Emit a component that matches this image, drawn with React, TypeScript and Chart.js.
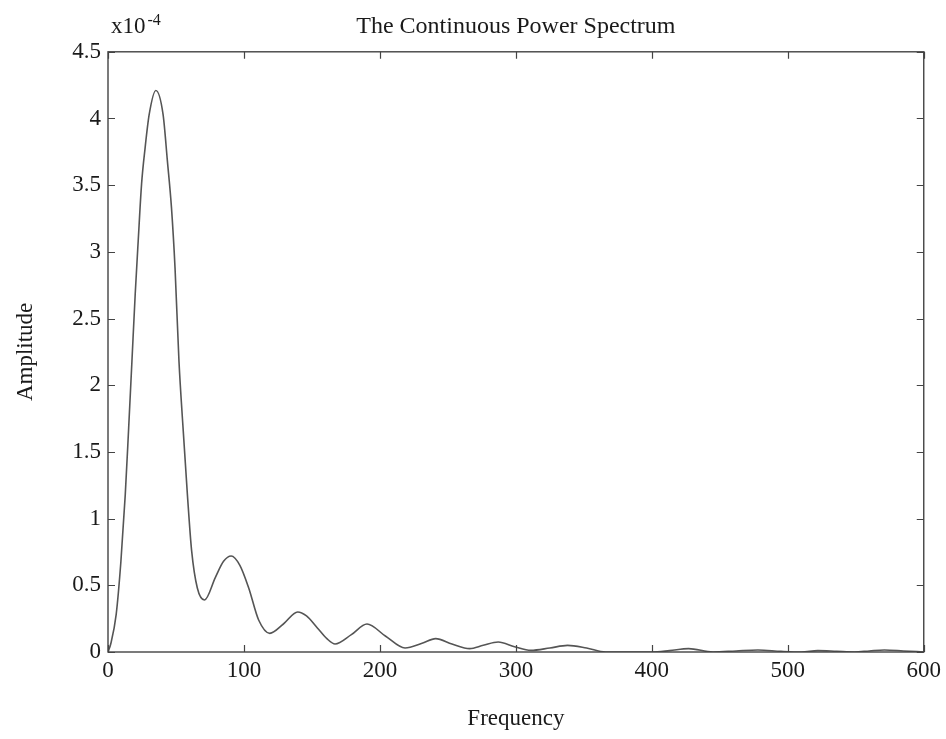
import React, { useEffect, useRef } from "react";
import { Chart, registerables } from "chart.js";

Chart.register(...registerables);

// Frequency (x) and amplitude (in units of 1e-4)
const frequency = [
  0, 2, 6, 9.5, 12.7, 15.2, 17.6, 20, 22.2, 24.7, 27.3, 30.3, 35.2, 40.5, 43.7,
  46.7, 49.3, 52.2, 55.2, 58.4, 61.5, 65.7, 71, 79, 85, 90.6, 97, 103.5, 110.8,
  119, 129, 139.5, 146, 154, 161, 167, 179, 190.5, 204, 218.5, 231, 241, 253,
  266, 276, 287, 299, 311, 325, 338, 352, 366, 383, 400, 413, 427, 445, 462,
  478, 495, 510, 522, 536, 549, 560, 571, 585, 600,
];
const amplitude = [
  0, 0.06, 0.28, 0.68, 1.18, 1.68, 2.18, 2.68, 3.08, 3.51, 3.78, 4.03, 4.21,
  4.03, 3.68, 3.33, 2.88, 2.18, 1.68, 1.18, 0.76, 0.48, 0.39, 0.56, 0.68, 0.72,
  0.65, 0.48, 0.24, 0.14, 0.21, 0.3, 0.27, 0.18, 0.1, 0.06, 0.13, 0.21, 0.12,
  0.03, 0.065, 0.1, 0.06, 0.025, 0.05, 0.075, 0.04, 0.012, 0.03, 0.05, 0.03, 0,
  0, 0, 0.01, 0.025, 0, 0.008, 0.015, 0.005, 0, 0.01, 0.005, 0, 0.008, 0.015,
  0.008, 0,
];

const titleText = "The Continuous Power Spectrum";
const xTitle = "Frequency";
const yTitle = "Amplitude";
const exponentBase = "x10";
const exponentPower = "-4";
const xMin = 0, xMax = 600, xStep = 100;
const yMin = 0, yMax = 4.5, yStep = 0.5;

const FONT = '"Liberation Serif", "Times New Roman", serif';
const INK = "#1a1a1a";

const framePlugin = {
  id: "frame",
  afterDraw(chart: any) {
    const { ctx, chartArea: a, scales } = chart;
    ctx.save();
    ctx.strokeStyle = "#444";
    ctx.lineWidth = 1.4;
    ctx.strokeRect(a.left, a.top, a.right - a.left, a.bottom - a.top);
    const L = 7;
    ctx.beginPath();
    scales.x.ticks.forEach((t: any) => {
      const px = Math.round(scales.x.getPixelForValue(t.value)) + 0.5;
      ctx.moveTo(px, a.bottom);
      ctx.lineTo(px, a.bottom - L);
      ctx.moveTo(px, a.top);
      ctx.lineTo(px, a.top + L);
    });
    scales.y.ticks.forEach((t: any) => {
      const py = Math.round(scales.y.getPixelForValue(t.value)) + 0.5;
      ctx.moveTo(a.left, py);
      ctx.lineTo(a.left + L, py);
      ctx.moveTo(a.right, py);
      ctx.lineTo(a.right - L, py);
    });
    ctx.lineWidth = 1.2;
    ctx.stroke();
    // exponent label
    ctx.fillStyle = INK;
    ctx.textBaseline = "alphabetic";
    ctx.textAlign = "left";
    ctx.font = `23px ${FONT}`;
    const x0 = a.left + 3;
    ctx.fillText(exponentBase, x0, 33);
    const w = ctx.measureText(exponentBase).width;
    ctx.font = `16px ${FONT}`;
    ctx.fillText(exponentPower, x0 + w + 2, 25);
    ctx.restore();
  },
};

export default function App() {
  const ref = useRef<HTMLCanvasElement>(null);
  useEffect(() => {
    document.body.style.margin = "0";
    const pts = frequency.map((f, i) => ({ x: f, y: amplitude[i] }));
    const chart = new Chart(ref.current!, {
      type: "line",
      data: {
        datasets: [
          {
            data: pts,
            borderColor: "#555",
            borderWidth: 1.6,
            pointRadius: 0,
            fill: false,
            cubicInterpolationMode: "monotone",
          },
        ],
      },
      options: {
        animation: false,
        responsive: false,
        layout: { padding: { top: 0, right: 21, left: 0, bottom: 0 } },
        plugins: {
          legend: { display: false },
          tooltip: { enabled: false },
          title: {
            display: true,
            fullSize: false,
            text: titleText,
            color: INK,
            font: { family: FONT, size: 24, weight: "normal" },
            padding: { top: 12, bottom: 11 },
          },
        },
        scales: {
          x: {
            type: "linear",
            min: xMin,
            max: xMax,
            ticks: {
              stepSize: xStep,
              color: INK,
              font: { family: FONT, size: 23 },
              padding: 5,
              maxRotation: 0,
            },
            grid: { display: false, drawTicks: false },
            border: { display: false },
            title: {
              display: true,
              text: xTitle,
              color: INK,
              font: { family: FONT, size: 23 },
              padding: { top: 0, bottom: 6 },
            },
            afterFit: (s: any) => {
              s.height = 87;
            },
          },
          y: {
            type: "linear",
            min: yMin,
            max: yMax,
            ticks: {
              stepSize: yStep,
              color: INK,
              font: { family: FONT, size: 23 },
              padding: 7,
              callback: (v: any) => String(Math.round(Number(v) * 10) / 10),
            },
            grid: { display: false, drawTicks: false },
            border: { display: false },
            title: {
              display: true,
              text: yTitle,
              color: INK,
              font: { family: FONT, size: 23 },
              padding: { top: 12, bottom: 0 },
            },
            afterFit: (s: any) => {
              s.width = 108;
            },
          },
        },
      },
      plugins: [framePlugin],
    } as any);
    return () => chart.destroy();
  }, []);
  return <canvas ref={ref} width={946} height={739} />;
}
